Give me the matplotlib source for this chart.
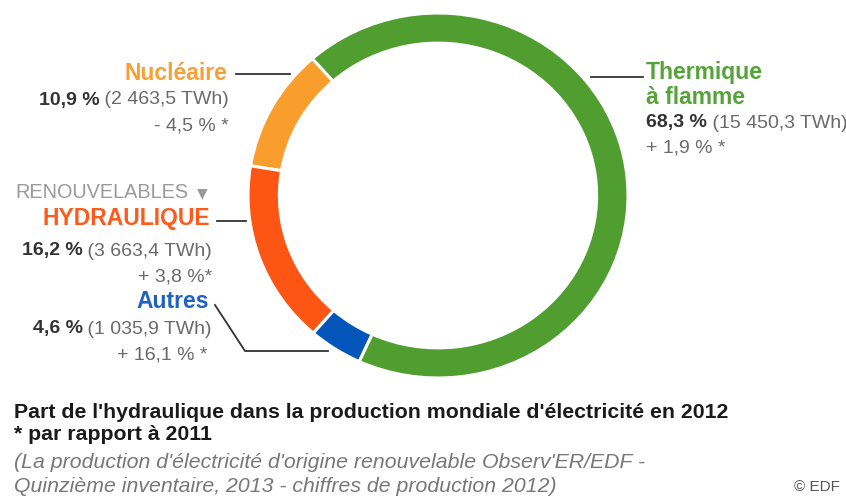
import matplotlib
matplotlib.use("Agg")
import matplotlib.pyplot as plt

# ---- data ----
categories = ["Nucléaire", "Hydraulique", "Autres", "Thermique à flamme"]
shares = [10.9, 16.2, 4.6, 68.3]
twh = ["2 463,5", "3 663,4", "1 035,9", "15 450,3"]
changes = ["- 4,5 % *", "+ 3,8 %*", "+ 16,1 % *", "+ 1,9 % *"]
colors = ["#f99d2c", "#fd5513", "#0455b9", "#4f9e2f"]

W, H = 846, 497
fig = plt.figure(figsize=(W / 100, H / 100), dpi=100)
plt.rcParams['font.family'] = ['Liberation Sans', 'DejaVu Sans']

# donut axes (bounding box in pixels: x 248..628, y 13..378)
x0, x1, y0, y1 = 248, 628, 13, 378
ax = fig.add_axes([x0 / W, 1 - y1 / H, (x1 - x0) / W, (y1 - y0) / H])
ax.pie(shares, colors=colors, startangle=131.4, counterclock=True,
       wedgeprops=dict(width=0.165, edgecolor="white", linewidth=2.2))
ax.set_aspect("auto")
ax.set_xlim(-1.0, 1.0)
ax.set_ylim(-1.0, 1.0)
ax.axis("off")


def P(x, y):
    return x / W, 1 - y / H


renderer = fig.canvas.get_renderer()
FS = 14
LFS = 16.5
GRAY = "#6a6a6a"
DARK = "#333333"


def value_line(x, y, pct, tw, align):
    pct_txt = f"{pct:.1f} %".replace(".", ",")
    rest = f" ({tw} TWh)"
    if align == "right":
        t = fig.text(*P(x, y), rest, ha="right", va="center", fontsize=FS, color=GRAY)
        bb = t.get_window_extent(renderer)
        fig.text(bb.x0 / W, 1 - y / H, pct_txt, ha="right", va="center",
                 fontsize=FS, color=DARK, fontweight="bold")
    else:
        t = fig.text(*P(x, y), pct_txt, ha="left", va="center", fontsize=FS,
                     color=DARK, fontweight="bold")
        bb = t.get_window_extent(renderer)
        fig.text(bb.x1 / W, 1 - y / H, rest, ha="left", va="center",
                 fontsize=FS, color=GRAY)


def line(xs, ys):
    fig.add_artist(plt.Line2D([x / W for x in xs], [1 - y / H for y in ys],
                              color="#333333", lw=1.3))


# Nucléaire
fig.text(*P(227, 74), "Nucléaire", ha="right", va="center", fontsize=LFS,
         color="#f7a035", fontweight="bold")
value_line(229, 100, shares[0], twh[0], "right")
fig.text(*P(229, 126), changes[0], ha="right", va="center", fontsize=FS, color=GRAY)
line([236, 290], [74, 74])

# Renouvelables / Hydraulique
fig.text(*P(188, 192), "RENOUVELABLES", ha="right", va="center", fontsize=14.3,
         color="#9a9a9a")
fig.text(*P(208, 193), "▼", ha="right", va="center", fontsize=10, color="#9a9a9a",
         family=["DejaVu Sans"])
fig.text(*P(210, 219), "HYDRAULIQUE", ha="right", va="center", fontsize=LFS,
         color="#fd5a1c", fontweight="bold")
value_line(212, 251, shares[1], twh[1], "right")
fig.text(*P(212, 277), changes[1], ha="right", va="center", fontsize=FS, color=GRAY)
line([217, 246], [221, 221])

# Autres
fig.text(*P(209, 302), "Autres", ha="right", va="center", fontsize=LFS,
         color="#1f62c2", fontweight="bold")
value_line(212, 329, shares[2], twh[2], "right")
fig.text(*P(207, 355), changes[2], ha="right", va="center", fontsize=FS, color=GRAY)
line([215, 245, 328], [305, 351, 351])

# Thermique à flamme
fig.text(*P(646, 73), "Thermique", ha="left", va="center", fontsize=LFS,
         color="#55a33a", fontweight="bold")
fig.text(*P(646, 97), "à flamme", ha="left", va="center", fontsize=LFS,
         color="#55a33a", fontweight="bold")
value_line(646, 123, shares[3], twh[3], "left")
fig.text(*P(646, 148), changes[3], ha="left", va="center", fontsize=FS, color=GRAY)
line([591, 643], [77, 77])

# footer
FFS = 15.3
fig.text(*P(14, 413), "Part de l'hydraulique dans la production mondiale d'électricité en 2012",
         ha="left", va="center", fontsize=FFS, color="#1a1a1a", fontweight="bold")
fig.text(*P(14, 434), "* par rapport à 2011", ha="left", va="center", fontsize=FFS,
         color="#1a1a1a", fontweight="bold")
fig.text(*P(14, 462), "(La production d'électricité d'origine renouvelable Observ'ER/EDF -",
         ha="left", va="center", fontsize=FFS, color="#777777", style="italic")
fig.text(*P(14, 486), "Quinzième inventaire, 2013 - chiffres de production 2012)",
         ha="left", va="center", fontsize=FFS, color="#777777", style="italic")
fig.text(*P(840, 487), "© EDF", ha="right", va="center", fontsize=11, color="#555555")

fig.savefig("out.png", dpi=100)
